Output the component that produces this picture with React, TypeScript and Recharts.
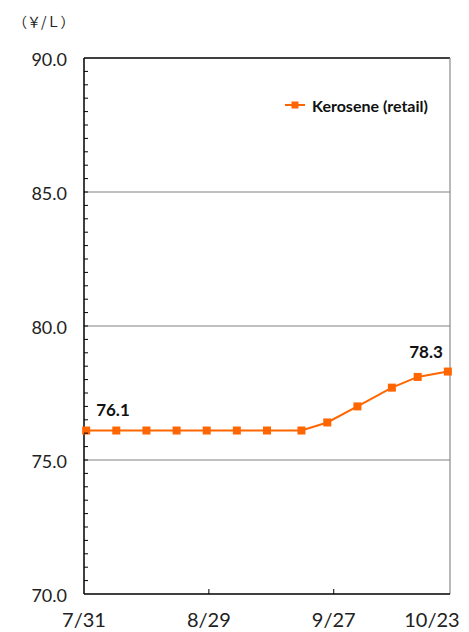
import React from 'react'
import { LineChart, Line, XAxis, YAxis, ReferenceLine, LabelList } from 'recharts'

// weekly survey dates (2023) and retail kerosene price, yen per litre
const surveyDates = ['7/31', '8/7', '8/14', '8/21', '8/28', '9/4', '9/11', '9/19', '9/25', '10/2', '10/10', '10/16', '10/23']
const kerosene = [76.1, 76.1, 76.1, 76.1, 76.1, 76.1, 76.1, 76.1, 76.4, 77.0, 77.7, 78.1, 78.3]

const xTickLabels = ['7/31', '8/29', '9/27', '10/23']
const yMajorTicks = [70, 75, 80, 85, 90]
const gridValues = [75, 80, 85]

const ORANGE = '#FF6600'
const FONT = 'Lato, "Noto Sans", sans-serif'
const W = 461
const H = 624

const dayOf = (md: string) => {
  const [m, d] = md.split('/').map(Number)
  return (Date.UTC(2023, m - 1, d) - Date.UTC(2023, 6, 31)) / 86400000
}

// points sit in the middle of their day, like a date axis
const data = surveyDates.map((d, i) => ({ date: d, x: dayOf(d) + 0.5, price: kerosene[i] }))
const xTicks = xTickLabels.map(dayOf)
const xMax = dayOf('10/24')

const yTicks: number[] = []
for (let v = 70; v <= 90; v += 0.5) yTicks.push(v)

const YTick = (props: any) => {
  const { x, y, payload } = props
  const v = payload.value
  return (
    <g>
      {v > 70 && v < 90 && <line x1={x} x2={x + 4} y1={y} y2={y} stroke="#000" />}
      {yMajorTicks.includes(v) && (
        <text x={x - 17} y={y} dy={1} textAnchor="end" dominantBaseline="central"
          fontSize={18} fontFamily={FONT} fill="#222">
          {v.toFixed(1)}
        </text>
      )}
    </g>
  )
}

const XTick = (props: any) => {
  const { x, y, payload } = props
  const i = xTicks.indexOf(payload.value)
  const last = i === xTicks.length - 1
  return (
    <g>
      {i > 0 && !last && <line x1={x} x2={x} y1={y} y2={y - 5} stroke="#000" />}
      <text x={last ? x + 14 : x} y={y + 33} textAnchor={last ? 'end' : 'middle'}
        fontSize={20} fontFamily={FONT} fill="#222">
        {xTickLabels[i]}
      </text>
    </g>
  )
}

const SquareDot = (props: any) => {
  const { cx, cy, index } = props
  return <rect key={index} x={cx - 4} y={cy - 4} width={8} height={8} fill={ORANGE} />
}

const PointLabel = (props: any) => {
  const { x, y, index, value } = props
  const style = { fontSize: 17, fontWeight: 700, fontFamily: FONT, fill: '#111' }
  if (index === 0)
    return <text x={x + 10} y={y - 21} dominantBaseline="central" {...style}>{Number(value).toFixed(1)}</text>
  if (index === data.length - 1)
    return <text x={x - 5} y={y - 20} textAnchor="end" dominantBaseline="central" {...style}>{Number(value).toFixed(1)}</text>
  return null
}

export default function App() {
  return (
    <div style={{ position: 'relative', width: W, height: H }}>
      <div style={{ position: 'absolute', left: 5, top: 3, fontSize: 14, fontFamily: '"Noto Sans CJK JP", sans-serif', color: '#222' }}>
        （￥/Ｌ）
      </div>
      <div style={{ position: 'absolute', left: 277, top: 87, height: 20, zIndex: 1, display: 'flex', alignItems: 'center',
        fontFamily: FONT, fontWeight: 700, fontSize: 16, color: '#111' }}>
        <svg width={20} height={10}>
          <line x1={0} x2={20} y1={5} y2={5} stroke={ORANGE} strokeWidth={2} />
          <rect x={6.5} y={1.5} width={7} height={7} fill={ORANGE} />
        </svg>
        <span style={{ marginLeft: 7 }}>Kerosene (retail)</span>
      </div>
      <LineChart width={W} height={H} data={data} margin={{ top: 50, right: 19, left: 0, bottom: 0 }}>
        <XAxis dataKey="x" type="number" domain={[0, xMax]} ticks={xTicks} interval={0}
          height={38} tickSize={0} tickMargin={0} tick={<XTick />}
          axisLine={{ stroke: '#000', strokeWidth: 1.5 }} tickLine={false} />
        <YAxis type="number" domain={[70, 90]} ticks={yTicks} interval={0}
          width={76} tickSize={0} tickMargin={0} tick={<YTick />}
          axisLine={{ stroke: '#000', strokeWidth: 1.5 }} tickLine={false} />
        {gridValues.map(v => (
          <ReferenceLine key={v} y={v} stroke="#808080" strokeWidth={1.2} />
        ))}
        <ReferenceLine y={90} stroke="#000" strokeWidth={1.5} />
        <ReferenceLine x={xMax} stroke="#8a8a8a" strokeWidth={1.2} />
        <Line type="linear" dataKey="price" name="Kerosene (retail)" stroke={ORANGE} strokeWidth={2}
          dot={<SquareDot />} activeDot={false} isAnimationActive={false}>
          <LabelList dataKey="price" content={<PointLabel />} />
        </Line>
      </LineChart>
    </div>
  )
}
